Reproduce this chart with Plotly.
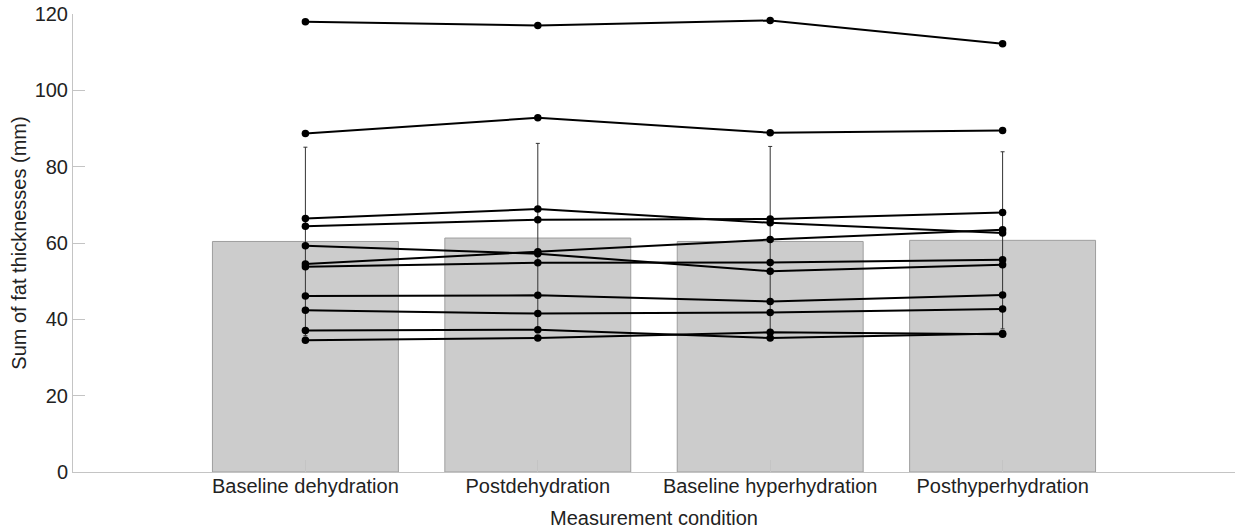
import plotly.graph_objects as go

categories = ["Baseline dehydration", "Postdehydration", "Baseline hyperhydration", "Posthyperhydration"]

bar_means = [60.4, 61.3, 60.4, 60.7]
bar_sd = [24.7, 24.8, 24.9, 23.2]

subject_a = [118.0, 117.0, 118.3, 112.2]
subject_b = [88.7, 92.8, 88.9, 89.5]
subject_c = [66.4, 68.9, 65.3, 62.6]
subject_d = [64.4, 66.1, 66.3, 68.0]
subject_e = [59.3, 57.2, 52.6, 54.3]
subject_f = [54.5, 57.7, 60.9, 63.5]
subject_g = [53.8, 54.8, 54.9, 55.6]
subject_h = [46.1, 46.3, 44.7, 46.4]
subject_i = [42.4, 41.5, 41.8, 42.7]
subject_j = [37.1, 37.3, 35.1, 36.3]
subject_k = [34.5, 35.1, 36.6, 36.1]

subjects = [subject_a, subject_b, subject_c, subject_d, subject_e, subject_f,
            subject_g, subject_h, subject_i, subject_j, subject_k]

y_ticks = [0, 20, 40, 60, 80, 100, 120]

FONT = "Liberation Sans, Arial, Helvetica, sans-serif"
TEXT = "#222222"
AXIS = "#c4c4c4"
FS = 20

fig = go.Figure()

fig.add_trace(go.Bar(
    x=categories, y=bar_means, width=0.8,
    marker=dict(color="#cccccc", line=dict(color="#9e9e9e", width=1)),
    error_y=dict(type="data", array=bar_sd, visible=True,
                 color="#333333", thickness=1, width=2),
    showlegend=False, hoverinfo="skip",
))

for s in subjects:
    fig.add_trace(go.Scatter(
        x=categories, y=s, mode="lines+markers",
        line=dict(color="#000000", width=2),
        marker=dict(color="#000000", size=7.5),
        showlegend=False,
    ))

fig.update_layout(
    width=1236, height=529,
    margin=dict(l=73, r=1, t=14, b=57, autoexpand=False),
    paper_bgcolor="white", plot_bgcolor="white",
    font=dict(family=FONT, size=FS, color=TEXT),
    xaxis=dict(
        type="category", range=[-1, 4],
        showline=True, linecolor=AXIS, linewidth=1,
        ticks="inside", ticklen=12, tickcolor=AXIS, tickwidth=1,
        showgrid=False, zeroline=False, automargin=False,
        ticklabelstandoff=-4,
        tickfont=dict(family=FONT, size=FS, color=TEXT),
        title=dict(text="Measurement condition", standoff=14,
                   font=dict(family=FONT, size=FS, color=TEXT)),
    ),
    yaxis=dict(
        range=[0, 120], tickvals=y_ticks,
        showline=True, linecolor=AXIS, linewidth=1,
        ticks="inside", ticklen=12, tickcolor=AXIS, tickwidth=1,
        showgrid=False, zeroline=False, automargin=False,
        tickfont=dict(family=FONT, size=FS, color=TEXT),
        title=dict(text="Sum of fat thicknesses (mm)", standoff=2,
                   font=dict(family=FONT, size=FS, color=TEXT)),
    ),
)

fig.write_html(
    "out.html",
    config={"displayModeBar": False},
    post_script="document.body.style.margin='0';document.body.style.padding='0';",
)
